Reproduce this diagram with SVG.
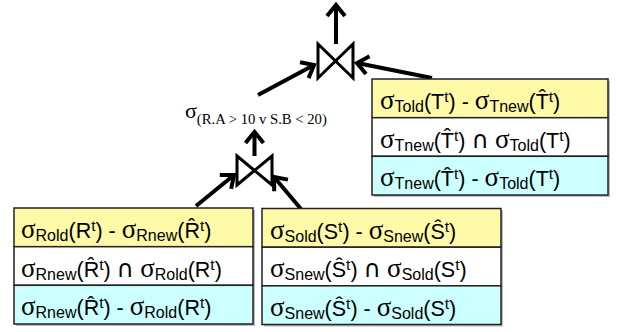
<svg xmlns="http://www.w3.org/2000/svg" width="618" height="332" viewBox="0 0 618 332">
<style>
.m{font-family:"Liberation Sans",Arial,sans-serif;font-size:21.5px;fill:#000}
.g{font-family:"Liberation Serif","Times New Roman",serif;font-size:27px}
.b{font-size:16px}
.p{font-size:15.5px}
.n{font-family:"DejaVu Sans",sans-serif;font-size:24px}
.box{stroke:#222;stroke-width:1.5}
.y{fill:#FFFAA8}
.w{fill:#FFFFFF}
.c{fill:#CCFFFF}
.sh{fill:#777;opacity:0.5}
.con{stroke:#000;stroke-width:4;fill:none;marker-end:url(#ah)}
.bow{stroke:#000;stroke-width:3;fill:#fff;stroke-linejoin:miter}
.lbl{font-family:"Liberation Serif","Times New Roman",serif;fill:#000}
</style>
<defs>
<marker id="ah" markerUnits="userSpaceOnUse" markerWidth="30" markerHeight="30" viewBox="-15 -15 30 30" refX="0" refY="0" orient="auto" overflow="visible">
<path d="M-11,-9 L0,0 L-11,9" fill="none" stroke="#000" stroke-width="4"/>
</marker>
</defs>
<rect width="618" height="332" fill="#fff"/>

<g id="connectors">
<line class="con" x1="336" y1="44" x2="336" y2="5"/>
<line class="con" x1="258" y1="95" x2="314" y2="65"/>
<line class="con" x1="432" y1="78" x2="357" y2="63"/>
<line class="con" x1="254.5" y1="156" x2="254.5" y2="132"/>
<line class="con" x1="196" y1="206" x2="234" y2="175"/>
<line class="con" x1="301" y1="209" x2="274" y2="177"/>
</g>

<g id="join-top">
<path class="bow" d="M318,44 L353,78 L353,44 L318,78 Z"/>
</g>

<g id="join-bottom">
<path class="bow" d="M237,156 L272,185 L272,156 L237,185 Z"/>
</g>

<g id="select-label">
<text class="lbl" x="185" y="118"><tspan font-size="22">σ</tspan><tspan font-size="14.7" dy="6">(R.A &gt; 10 v S.B &lt; 20)</tspan></text>
</g>

<g id="box-T">
<rect class="sh" x="374" y="81" width="236" height="116"/>
<rect class="box y" x="372" y="79" width="236" height="38.7"/>
<rect class="box w" x="372" y="117.7" width="236" height="38.6"/>
<rect class="box c" x="372" y="156.3" width="236" height="38.7"/>
<text class="m" x="380" y="109"><tspan class="g">σ</tspan><tspan class="b" dy="3">Told</tspan><tspan dy="-3">(T</tspan><tspan class="p" dy="-7">t</tspan><tspan dy="7">) - </tspan><tspan class="g">σ</tspan><tspan class="b" dy="3">Tnew</tspan><tspan dy="-3">(T̂</tspan><tspan class="p" dy="-7">t</tspan><tspan dy="7">)</tspan></text>
<text class="m" x="380" y="147.7"><tspan class="g">σ</tspan><tspan class="b" dy="3">Tnew</tspan><tspan dy="-3">(T̂</tspan><tspan class="p" dy="-7">t</tspan><tspan dy="7">) </tspan><tspan class="n">∩</tspan><tspan> </tspan><tspan class="g">σ</tspan><tspan class="b" dy="3">Told</tspan><tspan dy="-3">(T</tspan><tspan class="p" dy="-7">t</tspan><tspan dy="7">)</tspan></text>
<text class="m" x="380" y="186.3"><tspan class="g">σ</tspan><tspan class="b" dy="3">Tnew</tspan><tspan dy="-3">(T̂</tspan><tspan class="p" dy="-7">t</tspan><tspan dy="7">) - </tspan><tspan class="g">σ</tspan><tspan class="b" dy="3">Told</tspan><tspan dy="-3">(T</tspan><tspan class="p" dy="-7">t</tspan><tspan dy="7">)</tspan></text>
</g>

<g id="box-R">
<rect class="sh" x="16" y="210" width="239" height="116"/>
<rect class="box y" x="14" y="208" width="239" height="38.7"/>
<rect class="box w" x="14" y="246.7" width="239" height="38.6"/>
<rect class="box c" x="14" y="285.3" width="239" height="38.7"/>
<text class="m" x="21" y="238"><tspan class="g">σ</tspan><tspan class="b" dy="3">Rold</tspan><tspan dy="-3">(R</tspan><tspan class="p" dy="-7">t</tspan><tspan dy="7">) - </tspan><tspan class="g">σ</tspan><tspan class="b" dy="3">Rnew</tspan><tspan dy="-3">(R̂</tspan><tspan class="p" dy="-7">t</tspan><tspan dy="7">)</tspan></text>
<text class="m" x="21" y="276.7"><tspan class="g">σ</tspan><tspan class="b" dy="3">Rnew</tspan><tspan dy="-3">(R̂</tspan><tspan class="p" dy="-7">t</tspan><tspan dy="7">) </tspan><tspan class="n">∩</tspan><tspan> </tspan><tspan class="g">σ</tspan><tspan class="b" dy="3">Rold</tspan><tspan dy="-3">(R</tspan><tspan class="p" dy="-7">t</tspan><tspan dy="7">)</tspan></text>
<text class="m" x="21" y="315.3"><tspan class="g">σ</tspan><tspan class="b" dy="3">Rnew</tspan><tspan dy="-3">(R̂</tspan><tspan class="p" dy="-7">t</tspan><tspan dy="7">) - </tspan><tspan class="g">σ</tspan><tspan class="b" dy="3">Rold</tspan><tspan dy="-3">(R</tspan><tspan class="p" dy="-7">t</tspan><tspan dy="7">)</tspan></text>
</g>

<g id="box-S">
<rect class="sh" x="264" y="210.5" width="239" height="116"/>
<rect class="box y" x="262" y="208.5" width="239" height="38.7"/>
<rect class="box w" x="262" y="247.2" width="239" height="38.6"/>
<rect class="box c" x="262" y="285.8" width="239" height="38.7"/>
<text class="m" x="270" y="238.5"><tspan class="g">σ</tspan><tspan class="b" dy="3">Sold</tspan><tspan dy="-3">(S</tspan><tspan class="p" dy="-7">t</tspan><tspan dy="7">) - </tspan><tspan class="g">σ</tspan><tspan class="b" dy="3">Snew</tspan><tspan dy="-3">(Ŝ</tspan><tspan class="p" dy="-7">t</tspan><tspan dy="7">)</tspan></text>
<text class="m" x="270" y="277.2"><tspan class="g">σ</tspan><tspan class="b" dy="3">Snew</tspan><tspan dy="-3">(Ŝ</tspan><tspan class="p" dy="-7">t</tspan><tspan dy="7">) </tspan><tspan class="n">∩</tspan><tspan> </tspan><tspan class="g">σ</tspan><tspan class="b" dy="3">Sold</tspan><tspan dy="-3">(S</tspan><tspan class="p" dy="-7">t</tspan><tspan dy="7">)</tspan></text>
<text class="m" x="270" y="315.8"><tspan class="g">σ</tspan><tspan class="b" dy="3">Snew</tspan><tspan dy="-3">(Ŝ</tspan><tspan class="p" dy="-7">t</tspan><tspan dy="7">) - </tspan><tspan class="g">σ</tspan><tspan class="b" dy="3">Sold</tspan><tspan dy="-3">(S</tspan><tspan class="p" dy="-7">t</tspan><tspan dy="7">)</tspan></text>
</g>
</svg>
